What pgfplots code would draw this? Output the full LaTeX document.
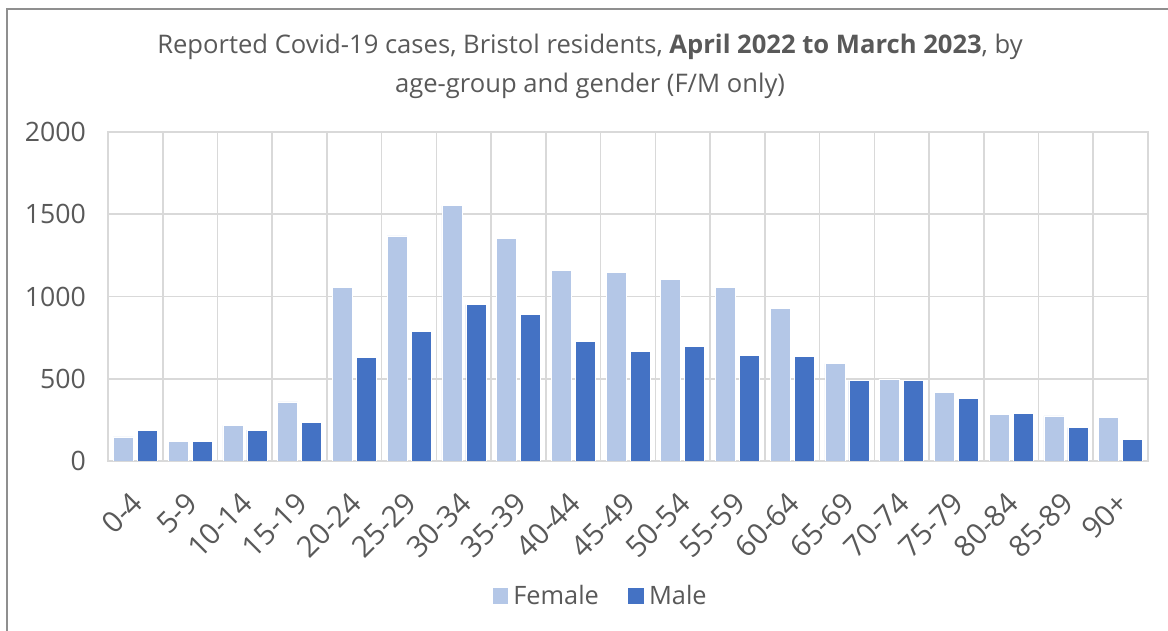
\documentclass[border=0pt]{standalone}
\usepackage{pgfplots}
\pgfplotsset{compat=1.18}
\usepackage{fontspec}
\setmainfont{Open Sans}
\definecolor{txt}{HTML}{595959}
\definecolor{gridc}{HTML}{D9D9D9}
\definecolor{fem}{HTML}{B4C7E7}
\definecolor{mal}{HTML}{4472C4}
\definecolor{frame}{HTML}{8F8F8F}
\begin{document}
\begin{tikzpicture}
\path[use as bounding box] (0,0) rectangle (876pt,473.25pt);
\draw[frame, line width=1.5pt] (5.25pt,-2pt) -- (5.25pt,466.5pt) -- (880pt,466.5pt);
\node[txt, font=\fontsize{19.2}{22}\selectfont] at (442.5pt,438pt) {Reported Covid-19 cases, Bristol residents, \textbf{April 2022 to March 2023}, by};
\node[txt, font=\fontsize{19.2}{22}\selectfont] at (442.5pt,408.75pt) {age-group and gender (F/M only)};
\begin{axis}[
  at={(81pt,127.5pt)}, anchor=south west,
  width=780pt, height=246.75pt, scale only axis,
  ybar=3pt, bar width=15pt,
  xmin=-0.5, xmax=18.5, ymin=0, ymax=2000,
  ytick={0,500,...,2000},
  xtick={0,...,18},
  xticklabels={0-4,5-9,10-14,15-19,20-24,25-29,30-34,35-39,40-44,45-49,50-54,55-59,60-64,65-69,70-74,75-79,80-84,85-89,90+},
  minor xtick={-0.5,0.5,...,18.5},
  xminorgrids, ymajorgrids, xmajorgrids=false,
  grid style={gridc, line width=1.2pt},
  minor grid style={gridc, line width=1.2pt},
  axis line style={gridc, line width=1.2pt},
  major tick length=0pt, minor tick length=0pt,
  tick style={draw=none},
  /pgf/number format/assume math mode=true,
  /pgf/number format/1000 sep={},
  yticklabel style={txt, font=\fontsize{20}{22}\selectfont, xshift=-13pt},
  xticklabel style={txt, font=\fontsize{22}{24}\selectfont, rotate=45, anchor=north east, xshift=-15pt, yshift=-9pt},
  legend style={at={(0.474,-0.41)}, anchor=center, draw=none, legend columns=2,
    font=\fontsize{19}{22}\selectfont, text=txt,
    /tikz/every odd column/.append style={column sep=2pt},
    /tikz/every even column/.append style={column sep=20pt}},
  legend image code/.code={\fill[#1, draw=none] (0pt,-5.8pt) rectangle (11.6pt,5.8pt);},
]
\addplot[fill=fem, draw=white, line width=0.4pt] coordinates {
(0,146) (1,118) (2,217) (3,359) (4,1056) (5,1368) (6,1552) (7,1354) (8,1161) (9,1147)
(10,1102) (11,1056) (12,926) (13,592) (14,498) (15,415) (16,282) (17,274) (18,267)};
\addplot[fill=mal, draw=white, line width=0.4pt] coordinates {
(0,188) (1,120) (2,188) (3,233) (4,630) (5,786) (6,950) (7,892) (8,727) (9,665)
(10,699) (11,642) (12,636) (13,488) (14,488) (15,379) (16,288) (17,203) (18,132)};
\legend{Female,Male}
\end{axis}
\end{tikzpicture}
\end{document}
